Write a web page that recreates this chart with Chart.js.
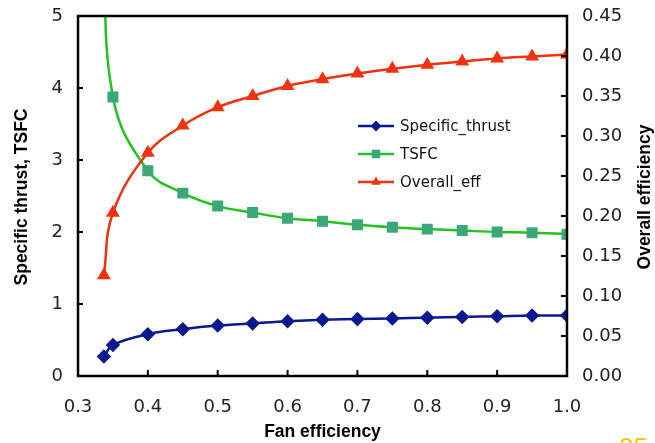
<!DOCTYPE html>
<html>
<head>
<meta charset="utf-8">
<script src="https://cdn.jsdelivr.net/npm/chart.js@4/dist/chart.umd.min.js"></script>
<style>
  html, body { margin: 0; padding: 0; background: #fff; }
  #wrap { width: 655px; height: 443px; position: relative; }
</style>
</head>
<body>
<div id="wrap"><canvas id="chart" width="655" height="443"></canvas></div>
<script>
// ---- data ----
const fanEff = [0.337, 0.35, 0.40, 0.45, 0.50, 0.55, 0.60, 0.65, 0.70, 0.75, 0.80, 0.85, 0.90, 0.95, 1.00];
const specificThrust = [0.27, 0.43, 0.58, 0.65, 0.70, 0.73, 0.76, 0.78, 0.79, 0.80, 0.81, 0.82, 0.83, 0.84, 0.84];
const tsfc = [6.2, 3.875, 2.85, 2.54, 2.36, 2.27, 2.19, 2.15, 2.10, 2.065, 2.04, 2.02, 2.00, 1.99, 1.97];
const overallEff = [0.126, 0.204, 0.279, 0.313, 0.336, 0.350, 0.3625, 0.371, 0.378, 0.384, 0.389, 0.393, 0.397, 0.3995, 0.402];

const xTickLabels = ['0.3', '0.4', '0.5', '0.6', '0.7', '0.8', '0.9', '1.0'];
const yLeftTickLabels = ['0', '1', '2', '3', '4', '5'];
const yRightTickLabels = ['0.00', '0.05', '0.10', '0.15', '0.20', '0.25', '0.30', '0.35', '0.40', '0.45'];

const seriesNames = ['Specific_thrust', 'TSFC', 'Overall_eff'];

// ---- styles ----
const TICK_FONT = { family: 'DejaVu Sans', size: 18 };
const TITLE_FONT = 'bold 17.5px "Liberation Sans", Arial, sans-serif';
const BLUE = '#0a1a8e';
const GREEN_LINE = '#22c41c';
const GREEN_MARK = '#3aa878';
const RED = '#f0320e';

function pts(ys) {
    return fanEff.map((x, i) => ({ x: x, y: ys[i] }));
}

function ticksFrom(labels) {
    return function(scale) {
        scale.ticks = labels.map(l => ({ value: parseFloat(l), label: l }));
    };
}

// фиксированная ширина оси, без лишних отступов сверху/снизу
function fixWidth(w) {
    return function(s) {
        s.width = w;
        s.paddingTop = 0;
        s.paddingBottom = 0;
    };
}

// рамка, внутренние засечки, подписи осей, легенда
const decorPlugin = {
    id: 'decor',
    afterDatasetsDraw(chart) {
        const ctx = chart.ctx;
        const a = chart.chartArea;
        const sx = chart.scales.x, yl = chart.scales.y, yr = chart.scales.y2;
        ctx.save();
        ctx.strokeStyle = '#000';
        ctx.lineWidth = 2.5;
        ctx.strokeRect(a.left, a.top, a.right - a.left, a.bottom - a.top);

        ctx.lineWidth = 2;
        ctx.beginPath();
        xTickLabels.forEach(l => {
            const px = sx.getPixelForValue(parseFloat(l));
            ctx.moveTo(px, a.bottom); ctx.lineTo(px, a.bottom - 6);
        });
        yLeftTickLabels.forEach(l => {
            const py = yl.getPixelForValue(parseFloat(l));
            ctx.moveTo(a.left, py); ctx.lineTo(a.left + 5, py);
        });
        yRightTickLabels.forEach(l => {
            const py = yr.getPixelForValue(parseFloat(l));
            ctx.moveTo(a.right, py); ctx.lineTo(a.right - 6, py);
        });
        ctx.stroke();

        // axis titles
        ctx.fillStyle = '#000';
        ctx.font = TITLE_FONT;
        ctx.textAlign = 'center';
        ctx.textBaseline = 'middle';
        ctx.fillText('Fan efficiency', (a.left + a.right) / 2, 432);

        const midY = 197;
        ctx.save();
        ctx.translate(22, midY);
        ctx.rotate(-Math.PI / 2);
        ctx.fillText('Specific thrust, TSFC', 0, 0);
        ctx.restore();

        ctx.save();
        ctx.translate(645, midY);
        ctx.rotate(-Math.PI / 2);
        ctx.fillText('Overall efficiency', 0, 0);
        ctx.restore();

        // legend inside the plot
        const lx0 = a.left + 280, lx1 = a.left + 316;
        let ly = a.top + 110;
        chart.data.datasets.forEach((ds) => {
            ctx.strokeStyle = ds.borderColor;
            ctx.lineWidth = ds.borderWidth;
            ctx.beginPath();
            ctx.moveTo(lx0, ly); ctx.lineTo(lx1, ly);
            ctx.stroke();
            ctx.fillStyle = ds.pointBackgroundColor;
            Chart.helpers.drawPoint(ctx, {
                pointStyle: ds.pointStyle,
                radius: ds.pointRadius,
                rotation: 0,
                borderWidth: 0
            }, (lx0 + lx1) / 2, ly);
            ctx.fillStyle = '#111';
            ctx.font = '15px "DejaVu Sans"';
            ctx.textAlign = 'left';
            ctx.fillText(ds.label, lx1 + 6, ly + 1);
            ly += 28;
        });

        // slide number peeking in at the bottom
        ctx.fillStyle = '#f7c81c';
        ctx.font = '26px "Liberation Sans", Arial, sans-serif';
        ctx.textAlign = 'left';
        ctx.textBaseline = 'alphabetic';
        ctx.fillText('25', 619, 456);
        ctx.restore();
    }
};

const ctx = document.getElementById('chart').getContext('2d');
new Chart(ctx, {
    type: 'line',
    data: {
        datasets: [
            {
                label: seriesNames[0],
                data: pts(specificThrust),
                yAxisID: 'y',
                borderColor: BLUE,
                backgroundColor: BLUE,
                pointBackgroundColor: BLUE,
                pointBorderColor: BLUE,
                pointStyle: 'rectRot',
                pointRadius: 5.5,
                borderWidth: 2.5,
                tension: 0.4,
                order: 3
            },
            {
                label: seriesNames[1],
                data: pts(tsfc),
                yAxisID: 'y',
                borderColor: GREEN_LINE,
                backgroundColor: GREEN_MARK,
                pointBackgroundColor: GREEN_MARK,
                pointBorderColor: GREEN_MARK,
                pointStyle: 'rect',
                pointRadius: 6,
                borderWidth: 2.5,
                tension: 0.4,
                order: 2
            },
            {
                label: seriesNames[2],
                data: pts(overallEff),
                yAxisID: 'y2',
                borderColor: RED,
                backgroundColor: RED,
                pointBackgroundColor: RED,
                pointBorderColor: RED,
                pointStyle: 'triangle',
                pointRadius: 5.5,
                borderWidth: 2.5,
                tension: 0.4,
                order: 1
            }
        ]
    },
    options: {
        responsive: false,
        animation: false,
        layout: { padding: { top: 16, left: 0, right: 0, bottom: 0 } },
        plugins: {
            legend: { display: false },
            tooltip: { enabled: false }
        },
        elements: { point: { borderWidth: 0 } },
        scales: {
            x: {
                type: 'linear',
                min: 0.3, max: 1.0,
                afterBuildTicks: ticksFrom(xTickLabels),
                afterFit(s) { s.height = 67; },
                grid: { display: false, drawTicks: false },
                border: { display: false },
                ticks: { font: TICK_FONT, color: '#222', padding: 21, maxRotation: 0,
                    callback: (v, i) => xTickLabels[i] }
            },
            y: {
                position: 'left',
                min: 0, max: 5,
                afterBuildTicks: ticksFrom(yLeftTickLabels),
                afterFit: fixWidth(78),
                grid: { display: false, drawTicks: false },
                border: { display: false },
                ticks: { font: TICK_FONT, color: '#222', padding: 15,
                    callback: (v, i) => yLeftTickLabels[i] }
            },
            y2: {
                position: 'right',
                min: 0, max: 0.45,
                afterBuildTicks: ticksFrom(yRightTickLabels),
                afterFit: fixWidth(88),
                grid: { display: false, drawTicks: false },
                border: { display: false },
                ticks: { font: TICK_FONT, color: '#222', padding: 15,
                    callback: (v, i) => yRightTickLabels[i] }
            }
        }
    },
    plugins: [decorPlugin]
});
</script>
</body>
</html>
